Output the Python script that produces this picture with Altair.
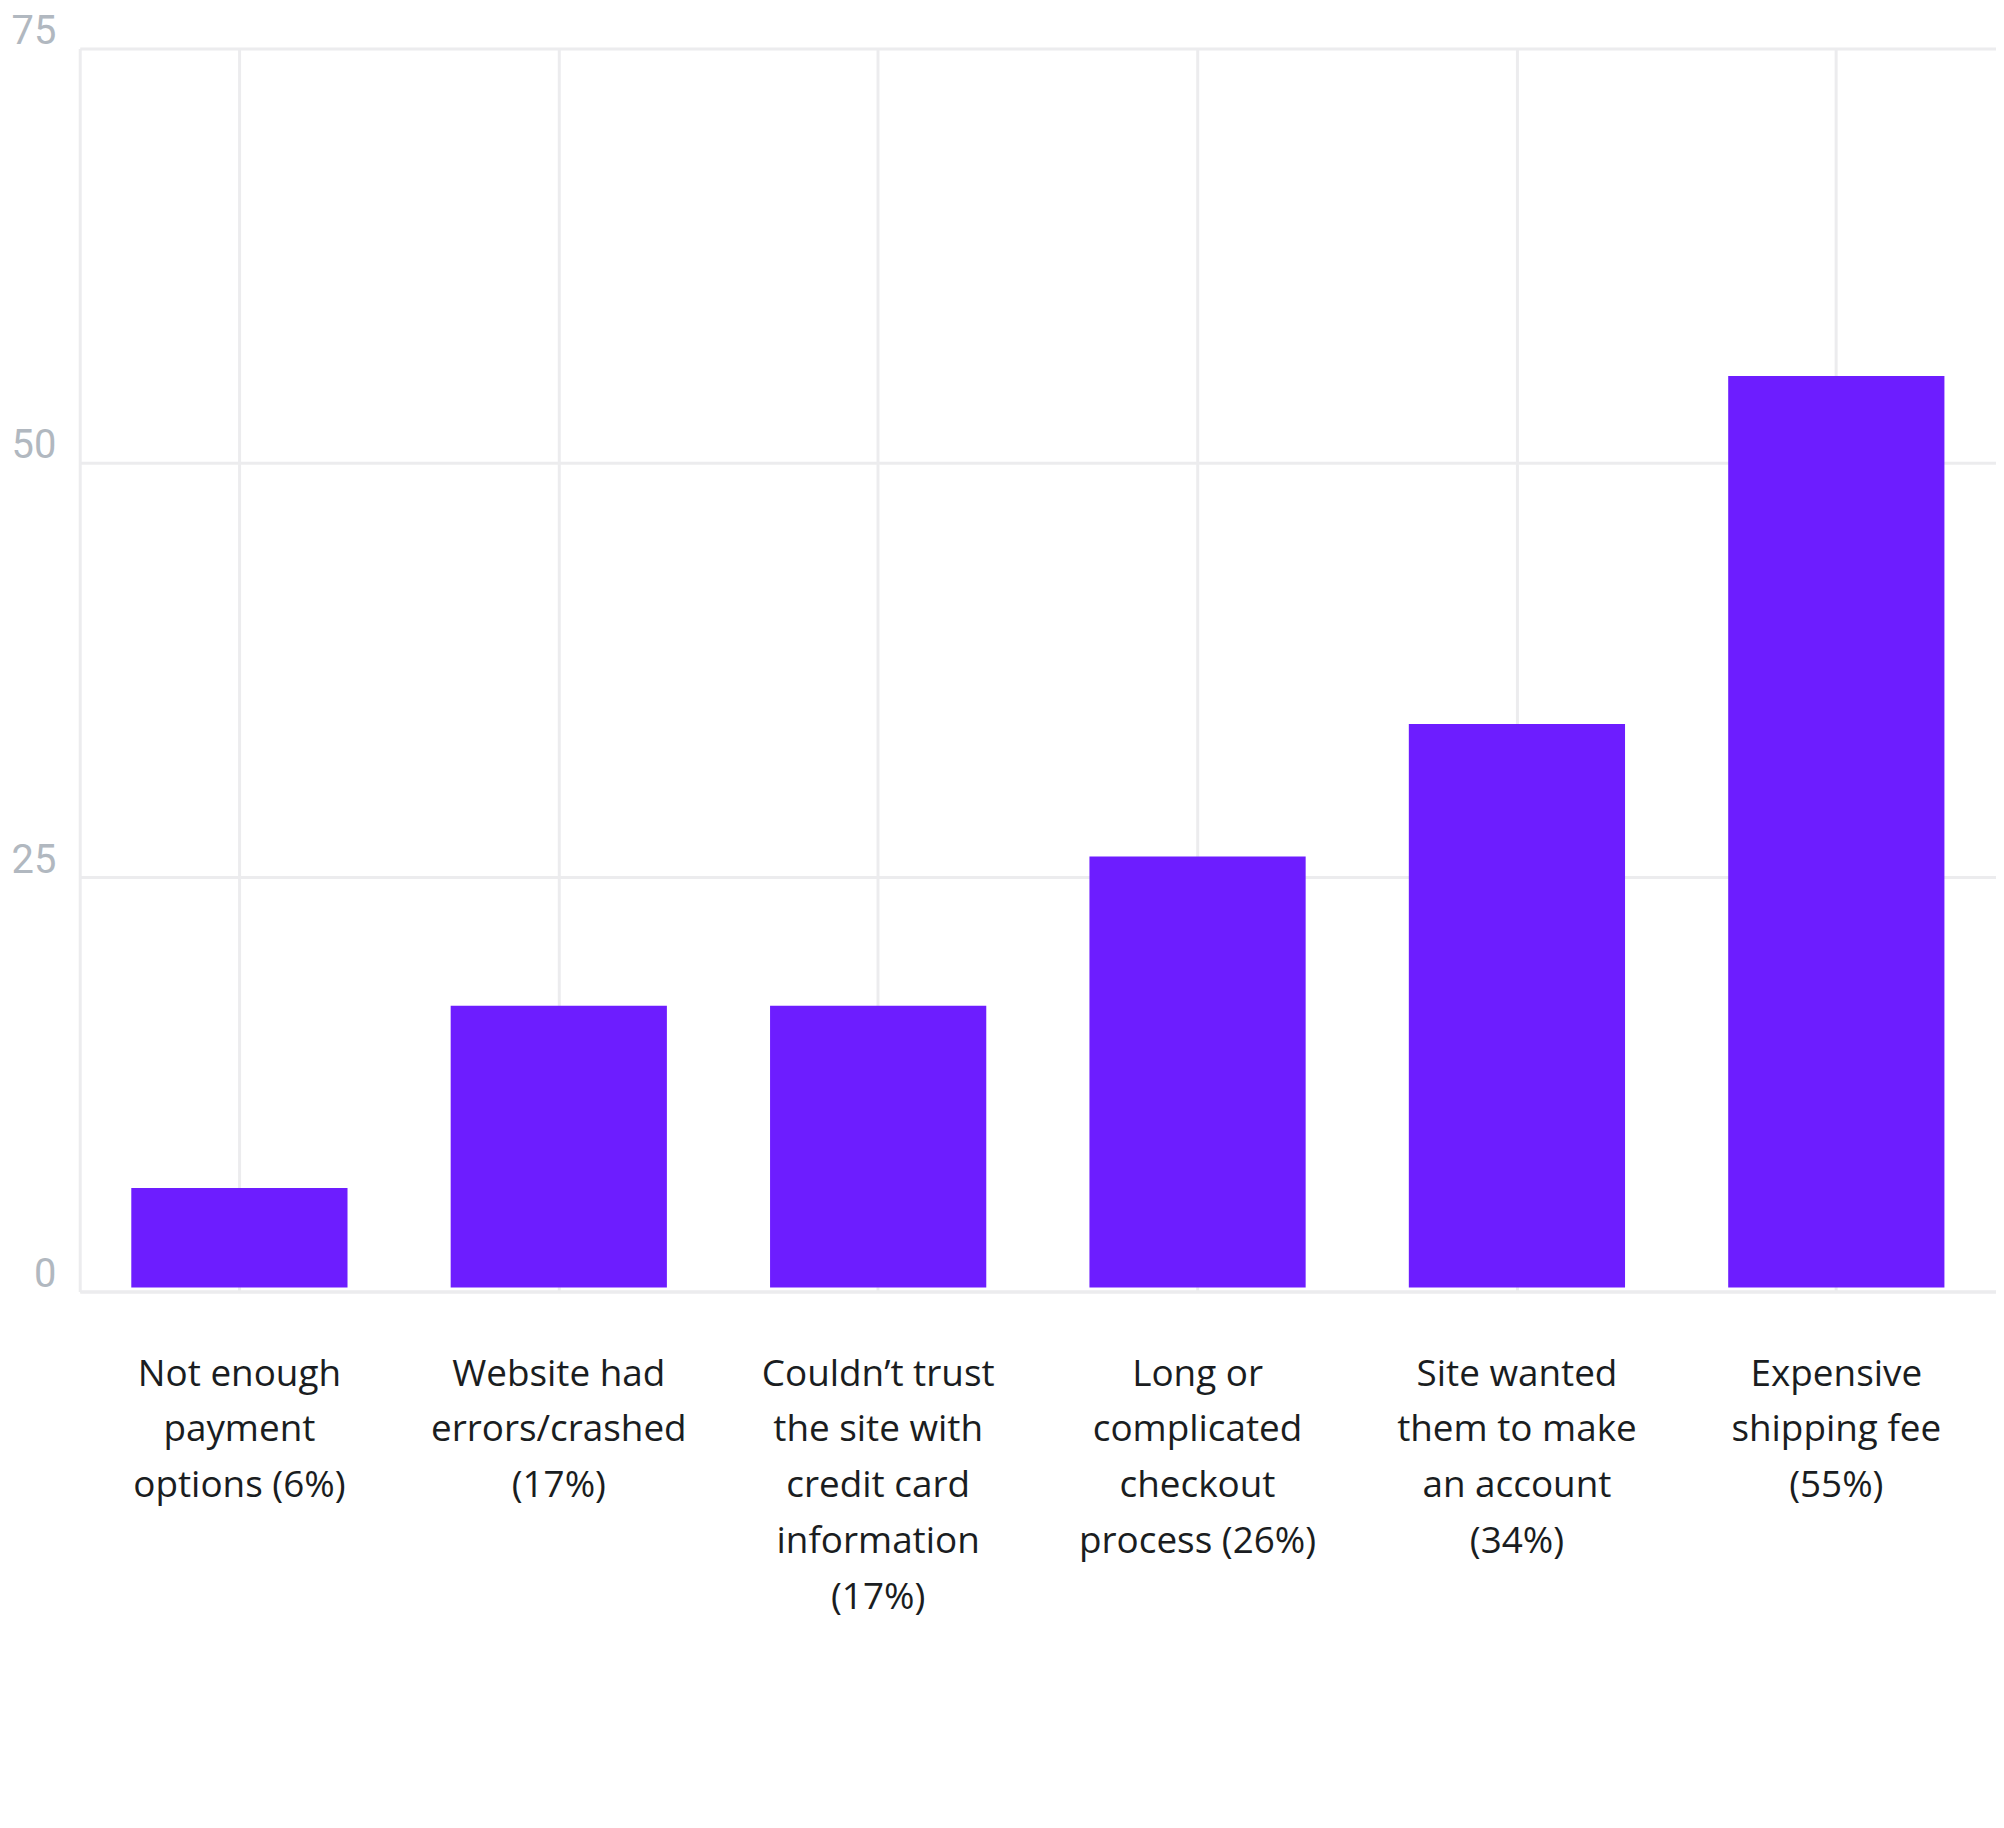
import altair as alt
import pandas as pd

categories = [
    "Not enough|payment|options (6%)",
    "Website had|errors/crashed|(17%)",
    "Couldn’t trust|the site with|credit card|information|(17%)",
    "Long or|complicated|checkout|process (26%)",
    "Site wanted|them to make|an account|(34%)",
    "Expensive|shipping fee|(55%)",
]
values = [6, 17, 17, 26, 34, 55]
y_ticks = [0, 25, 50, 75]

df = pd.DataFrame({"reason": categories, "pct": values})

GRID = "#ececee"
BAR = "#6d1dff"

chart = (
    alt.Chart(df)
    .mark_bar(color=BAR, yOffset=-4, y2Offset=-4)
    .encode(
        x=alt.X(
            "reason:N",
            sort=categories,
            title=None,
            scale=alt.Scale(paddingInner=0.323, paddingOuter=0.1615),
            axis=alt.Axis(
                labelExpr="split(datum.label, '|')",
                labelAngle=0,
                labelAlign="center",
                labelBaseline="top",
                labelPadding=65,
                labelFont="Open Sans",
                labelFontSize=37,
                labelColor="#1a1d21",
                labelLineHeight=56,
                labelLimit=600,
                labelOverlap=False,
                ticks=False,
                tickSize=0,
                grid=True,
                gridColor=GRID,
                gridWidth=3,
                domainColor=GRID,
                domainWidth=3,
            ),
        ),
        y=alt.Y(
            "pct:Q",
            title=None,
            scale=alt.Scale(domain=[0, 75], nice=False, zero=True),
            axis=alt.Axis(
                values=y_ticks,
                labelFont="Roboto",
                labelFontSize=40,
                labelColor="#b1b8c0",
                labelPadding=24,
                labelBaseline="alphabetic",
                labelOffset=-5,
                labelFlush=False,
                ticks=False,
                tickSize=0,
                grid=True,
                gridColor=GRID,
                gridWidth=3,
                domainColor=GRID,
                domainWidth=3,
            ),
        ),
    )
    .properties(
        width=1924,
        height=1248,
        padding={"left": 72, "top": 37, "right": 0, "bottom": 500},
        autosize=alt.AutoSizeParams(type="none"),
    )
    .configure_view(strokeWidth=0)
)

chart.save("out.html", embed_options={"renderer": "svg", "actions": False})
